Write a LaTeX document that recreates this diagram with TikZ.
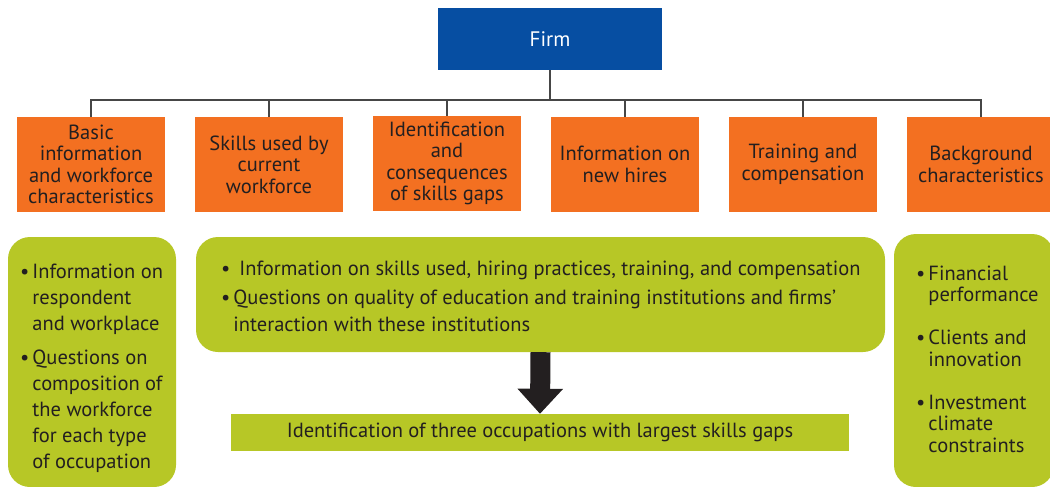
\documentclass[tikz,border=0pt]{standalone}
\usepackage{fontspec}
\setmainfont{PT Sans}
\usetikzlibrary{arrows.meta}
\definecolor{firmblue}{RGB}{6,78,162}
\definecolor{orangebox}{RGB}{243,112,33}
\definecolor{greenbox}{RGB}{183,199,38}
\definecolor{linegray}{RGB}{70,70,70}
\definecolor{txt}{RGB}{35,31,32}
\tikzset{
  obox/.style={fill=orangebox, minimum width=148pt, minimum height=95pt, inner sep=0pt,
    align=center, text=txt, font=\fontsize{20.5}{21.5}\selectfont},
  gbox/.style={fill=greenbox, rounded corners=22pt, inner sep=0pt},
  gtext/.style={inner sep=0pt, anchor=north west, text=txt, align=left},
  conn/.style={draw=linegray, line width=1.2pt},
}
\newcommand{\bul}{\textbullet}
\begin{document}
\begin{tikzpicture}[x=1pt,y=-1pt]
\useasboundingbox (0,0) rectangle (1050,487);
\node[fill=firmblue, minimum width=224pt, minimum height=62pt, inner sep=0pt, text=white,
  font=\fontsize{21}{22}\selectfont] (firm) at (550,39) {Firm};
\node[obox] (o1) at (91,164.5) {Basic\\information\\and workforce\\characteristics};
\node[obox] (o2) at (269,164.5) {Skills used by\\current\\workforce};
\node[obox] (o3) at (447,163.5) {Identification\\and\\consequences\\of skills gaps};
\node[obox] (o4) at (625,164.5) {Information on\\new hires};
\node[obox] (o5) at (803,164.5) {Training and\\compensation};
\node[obox] (o6) at (981,164.5) {Background\\characteristics};
\coordinate (bus) at (550,100);
\draw[conn] (firm.south) -- (bus);
\foreach \i in {1,...,6} { \draw[conn] (bus) -| (o\i.north); }
% green boxes
\node[gbox, minimum width=168pt, minimum height=250pt] (g1) at (92,362) {};
\node[gbox, minimum width=689pt, minimum height=115pt] (g2) at (540.5,294.5) {};
\node[gbox, minimum width=160pt, minimum height=253pt] (g3) at (974,360.5) {};
\node[fill=greenbox, minimum width=618pt, minimum height=37pt, inner sep=0pt, text=txt,
  font=\fontsize{20.5}{21}\selectfont] (bar) at (540,432.5)
  {Identification of three occupations with largest skills gaps};
\draw[draw=txt, line width=20pt, -{Triangle[width=44pt,length=25pt]}] (g2.south) -- (bar.north);
% texts
\node[gtext, font=\fontsize{20.5}{26}\selectfont] (t1) at (20,260) {%
\begin{tabular}{@{}l@{\hspace{3pt}}l@{}}
\bul & Information on\\
 & respondent\\
 & and workplace\\[8pt]
\bul & Questions on\\
 & composition of\\
 & the workforce\\
 & for each type\\
 & of occupation
\end{tabular}};
\node[gtext, font=\fontsize{20.5}{27}\selectfont] (t2) at (221,256) {%
\begin{tabular}{@{}l@{\hspace{3pt}}l@{}}
\bul & \hspace{6pt}Information on skills used, hiring practices, training, and compensation\\[2pt]
\bul & Questions on quality of education and training institutions and firms'\\
 & interaction with these institutions
\end{tabular}};
\node[gtext, font=\fontsize{20.5}{21.5}\selectfont] (t3) at (916,265) {%
\begin{tabular}{@{}l@{\hspace{3pt}}l@{}}
\bul & Financial\\
 & performance\\[21.5pt]
\bul & Clients and\\
 & innovation\\[21.5pt]
\bul & Investment\\
 & climate\\
 & constraints
\end{tabular}};
\end{tikzpicture}
\end{document}
